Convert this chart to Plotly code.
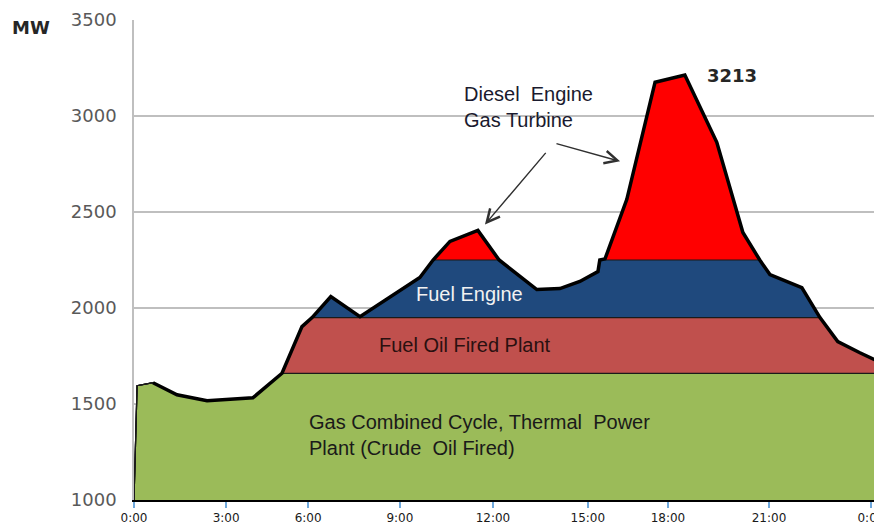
import plotly.graph_objects as go

# ---- data (x in axis hours, y in MW) ----
hours = [0.0, 0.10, 0.62, 1.40, 2.38, 3.87, 4.82, 5.47, 5.80, 6.41, 7.36, 9.31,
         9.74, 10.29, 11.20, 11.89, 13.12, 13.87, 14.52, 15.11, 15.17, 15.34,
         16.05, 16.97, 17.94, 18.98, 19.83, 20.38, 20.71, 21.75, 22.34, 22.92,
         23.64, 24.12, 24.12]
demand_mw = [1000, 1595, 1611, 1548, 1517, 1532, 1660, 1903, 1950, 2059, 1955, 2159,
             2250, 2347, 2404, 2250, 2096, 2101, 2138, 2190, 2250, 2256,
             2566, 3176, 3213, 2863, 2393, 2250, 2174, 2106, 1950, 1825,
             1767, 1731, 1000]

gas_cc_top = 1660        # Gas Combined Cycle / thermal plant
fuel_oil_top = 1950      # Fuel Oil Fired Plant
fuel_engine_top = 2250   # Fuel Engine

tick_hours = [0, 3.0, 5.67, 8.66, 11.69, 14.78, 17.39, 20.68, 24]
tick_labels = ["0:00", "3:00", "6:00", "9:00", "12:00", "15:00", "18:00", "21:00", "0:00"]
y_ticks = [1000, 1500, 2000, 2500, 3000, 3500]

band_names = ["Gas Combined Cycle, Thermal  Power<br>Plant (Crude  Oil Fired)",
              "Fuel Oil Fired Plant", "Fuel Engine", "Diesel  Engine<br>Gas Turbine"]
band_colors = ["#9BBB59", "#C0504D", "#1F497D", "#FF0000"]

# ---- build stacked bands from the demand curve ----
green = [min(v, gas_cc_top) for v in demand_mw]
brown = [min(v, fuel_oil_top) for v in demand_mw]
blue = [min(v, fuel_engine_top) for v in demand_mw]
red = list(demand_mw)

fig = go.Figure()
for i, (vals, col) in enumerate(zip([green, brown, blue, red], band_colors)):
    fig.add_trace(go.Scatter(
        x=hours, y=vals, mode="lines",
        line=dict(color="#1a1a1a", width=1.2),
        fill="tozeroy" if i == 0 else "tonexty",
        fillcolor=col, hoverinfo="skip", showlegend=False))

# thick outline of total demand
fig.add_trace(go.Scatter(
    x=hours[2:-1], y=demand_mw[2:-1], mode="lines",
    line=dict(color="#000000", width=3.5), hoverinfo="skip", showlegend=False))

ann = []
# band labels
ann.append(dict(x=5.63, y=1339, text=band_names[0], xanchor="left", yanchor="middle",
                align="left", showarrow=False,
                font=dict(family="Liberation Sans", size=20, color="#1a1a1a")))
ann.append(dict(x=10.78, y=1809, text=band_names[1], xanchor="center", yanchor="middle",
                showarrow=False, font=dict(family="Liberation Sans", size=20, color="#2a1010")))
ann.append(dict(x=10.94, y=2075, text=band_names[2], xanchor="center", yanchor="middle",
                showarrow=False, font=dict(family="Liberation Sans", size=20, color="#F2F2F2")))
ann.append(dict(x=10.68, y=3046, text=band_names[3], xanchor="left", yanchor="middle",
                align="left", showarrow=False,
                font=dict(family="Liberation Sans", size=20, color="#1a1a2e")))
# peak label
peak = max(demand_mw)
peak_x = hours[demand_mw.index(peak)]
ann.append(dict(x=peak_x, y=peak, text="<b>%d</b>" % peak, xanchor="left", yanchor="middle",
                xshift=20, showarrow=False,
                font=dict(family="DejaVu Sans", size=18, color="#262626")))
# arrows
for (tx, ty, hx, hy) in [(13.45, 2816, 11.43, 2435), (13.71, 2858, 15.83, 2764)]:
    ann.append(dict(x=hx, y=hy, ax=tx, ay=ty, xref="x", yref="y", axref="x", ayref="y",
                    text="", showarrow=True, arrowhead=5, arrowsize=1.8, arrowwidth=1.4,
                    arrowcolor="#303030"))
# unit label
ann.append(dict(x=-0.1676, y=0.985, xref="paper", yref="paper", text="<b>MW</b>",
                xanchor="left", yanchor="middle", showarrow=False,
                font=dict(family="DejaVu Sans", size=18, color="#262626")))

# the page body adds an 8px margin, so the figure is sized to fit the window
fig.update_layout(
    width=874, height=518,
    margin=dict(l=126, r=8, t=12, b=26, autoexpand=False),
    paper_bgcolor="white", plot_bgcolor="white",
    annotations=ann,
    xaxis=dict(range=[0, 24.1], tickvals=tick_hours, ticktext=tick_labels,
               ticks="outside", ticklen=6, tickwidth=1.5, tickcolor="#6FA8DC",
               showline=True, linecolor="#000000", linewidth=1.5,
               showgrid=False, zeroline=False, automargin=False,
               ticklabeloverflow="allow",
               tickfont=dict(family="DejaVu Sans", size=12, color="#1a1a1a")),
    yaxis=dict(range=[1000, 3500], tickvals=y_ticks,
               showgrid=True, gridcolor="#BFBFBF", gridwidth=1.5,
               showline=True, linecolor="#BFBFBF", linewidth=1.5,
               zeroline=False, ticks="", ticklabelstandoff=12, automargin=False,
               tickfont=dict(family="DejaVu Sans", size=18, color="#595959")),
)

fig.write_html("out.html")
